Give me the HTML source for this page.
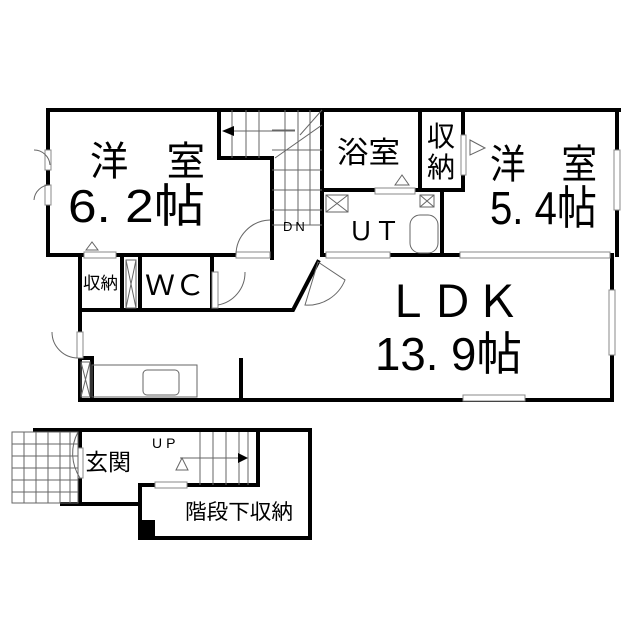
<!DOCTYPE html>
<html><head><meta charset="utf-8"><style>
html,body{margin:0;padding:0;background:#fff}
svg{display:block}
text{font-family:"Liberation Sans","Noto Sans CJK JP",sans-serif;fill:#000}
</style></head><body>
<svg width="639" height="640" viewBox="0 0 639 640">
<g fill="none" stroke="#000" stroke-width="4" stroke-linecap="square">
<path d="M48 110 H619"/>
<path d="M48 110 V255 H272 V158 H219 V110"/>
<path d="M272 158 V258"/>
<path d="M80 255 V400 H612 V255"/>
<path d="M617 110 V255"/>
<path d="M322 110 V255"/>
<path d="M322 190 H420"/>
<path d="M420 110 V190 H463 V110"/>
<path d="M442 190 V255"/>
<path d="M322 255 H612"/>
<path d="M80 310 H293 L318 262"/>
<path d="M122 255 V310"/>
<path d="M140 255 V310"/>
<path d="M212 255 V310"/>
<path d="M241 360 V399"/>
<path d="M80 358 H92 V399"/>
<path d="M35 430 H310 V538 H140 V485"/>
<path d="M80 430 V504"/>
<path d="M62 504 H140"/>
<path d="M140 485 H258 V430"/>
</g>
<rect x="140" y="520" width="15" height="17" fill="#000"/>
<g fill="#fff" stroke="#888" stroke-width="1">
<rect x="45" y="150" width="6" height="20"/><rect x="45" y="185" width="6" height="20"/>
<rect x="77" y="332" width="6" height="26"/>
<rect x="236" y="252" width="34" height="6"/>
<rect x="84" y="252" width="32" height="6"/>
<rect x="212" y="272" width="6" height="36"/>
<rect x="326" y="252" width="64" height="6"/>
<rect x="460" y="252" width="150" height="6"/>
<rect x="609" y="290" width="6" height="65"/>
<rect x="614" y="150" width="6" height="60"/>
<rect x="463" y="395" width="62" height="6"/>
<rect x="375" y="188" width="40" height="6"/>
<rect x="461" y="135" width="5" height="40"/>
<rect x="78" y="448" width="5" height="30"/>
<rect x="155" y="482" width="32" height="6"/>
</g>
<g fill="none" stroke="#666" stroke-width="1">
<path d="M270 220 A35 35 0 0 0 236 255"/>
<path d="M245 272 A33 33 0 0 1 218 305"/>
<path d="M78 432 A45 45 0 0 0 80 478"/>
<path d="M52 332 A26 26 0 0 0 78 358"/>
<path d="M34 150 A16 16 0 0 1 50 165"/><path d="M34 200 A16 16 0 0 1 50 185"/>
<path d="M318 262 L345 280 A40 40 0 0 1 305 305 Z"/>
<rect x="92" y="365" width="105" height="32"/>
<rect x="143" y="370" width="36" height="25" rx="4"/>
<rect x="410" y="215" width="28" height="38" rx="10"/>
<path d="M272 130 H295 M272 150 H322 M272 170 H322 M272 190 H322 M272 210 H322 M272 225 H322"/>
<path d="M232 110 V158 M246 110 V158 M259 110 V158 M285 110 V225 M298 110 V225 M310 110 V225"/>
<path d="M275 158 L322 125 M300 135 L322 110"/>
<path d="M224 131 H295"/>
<path d="M200 432 V485 M213 432 V485 M226 432 V485 M239 432 V485 M248 432 V485"/>
<path d="M180 458 H245"/>
<path d="M176 470 L182 458 L188 470 Z"/>
<path d="M86 250 L92 242 L98 250 Z"/>
<path d="M395 185 L402 175 L409 185 Z"/>
<path d="M470 140 L485 148 L470 155 Z"/>
<rect x="326" y="195" width="22" height="17"/><path d="M326 195 L348 212 M348 195 L326 212"/>
<rect x="420" y="195" width="14" height="12"/><path d="M420 195 L434 207 M434 195 L420 207"/>
<rect x="126" y="260" width="10" height="48"/><path d="M126 260 L136 308 M136 260 L126 308"/>
<rect x="81" y="362" width="9" height="35"/><path d="M81 362 L90 397 M90 362 L81 397"/>
<path d="M12 432 H78 V503 H12 Z M12 444 H78 M12 456 H78 M12 468 H78 M12 480 H78 M12 492 H78 M24 432 V503 M36 432 V503 M48 432 V503 M60 432 V503 M70 432 V503"/>
</g>
<path d="M222 131 L234 126 L234 136 Z" fill="#000"/>
<path d="M248 458 L238 453 L238 463 Z" fill="#000"/>
<g>
<text x="90" y="175" font-size="40" textLength="115" lengthAdjust="spacingAndGlyphs">洋　室</text>
<text x="68" y="222" font-size="46" textLength="137" lengthAdjust="spacingAndGlyphs">6. 2帖</text>
<text x="490" y="178" font-size="40" textLength="107" lengthAdjust="spacingAndGlyphs">洋　室</text>
<text x="490" y="224" font-size="46" textLength="107" lengthAdjust="spacingAndGlyphs">5. 4帖</text>
<text x="385" y="317" font-size="44" textLength="135" lengthAdjust="spacingAndGlyphs">ＬＤＫ</text>
<text x="375" y="370" font-size="46" textLength="147" lengthAdjust="spacingAndGlyphs">13. 9帖</text>
<text x="337" y="163" font-size="30" textLength="63" lengthAdjust="spacingAndGlyphs">浴室</text>
<text x="427" y="146" font-size="28">収</text>
<text x="427" y="177" font-size="28">納</text>
<text x="348" y="240" font-size="26" textLength="52" lengthAdjust="spacingAndGlyphs">ＵＴ</text>
<text x="145" y="295" font-size="28" textLength="60" lengthAdjust="spacingAndGlyphs">ＷＣ</text>
<text x="83" y="289" font-size="17" textLength="35" lengthAdjust="spacingAndGlyphs">収納</text>
<text x="283" y="231" font-size="13" letter-spacing="3">DN</text>
<text x="85" y="470" font-size="23" textLength="46" lengthAdjust="spacingAndGlyphs">玄関</text>
<text x="152" y="448" font-size="14" letter-spacing="4">UP</text>
<text x="185" y="519" font-size="21" textLength="108" lengthAdjust="spacingAndGlyphs">階段下収納</text>
</g>
</svg>
</body></html>
